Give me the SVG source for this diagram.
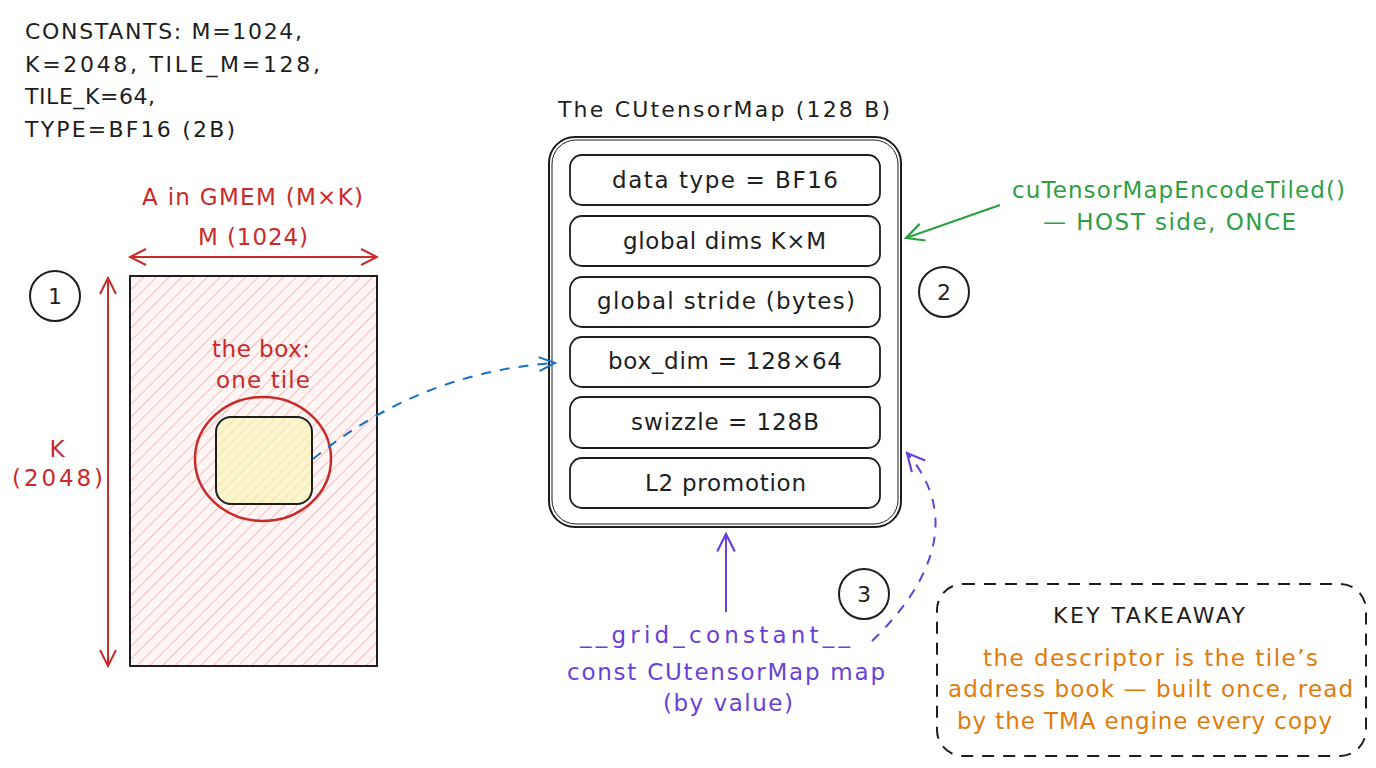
<svg xmlns="http://www.w3.org/2000/svg" width="1376" height="768" viewBox="0 0 1376 768">
<defs>
<style>
text{font-family:"DejaVu Sans","Liberation Sans",sans-serif;}
.blk{fill:#1e1e1e;font-size:22px;}
.red{fill:#c92a2a;font-size:23px;}
.grn{fill:#2f9e44;font-size:23px;}
.pur{fill:#6741d9;font-size:23px;}
.org{fill:#e07b0c;font-size:23px;}
.box{fill:#ffffff;stroke:#1e1e1e;stroke-width:1.8;}
.bt{fill:#1e1e1e;font-size:23px;}
.c{text-anchor:middle;}
.circ{fill:none;stroke:#1e1e1e;stroke-width:2;}
</style>
<pattern id="hatchRed" width="9" height="9" patternUnits="userSpaceOnUse" patternTransform="rotate(45)">
<rect width="9" height="9" fill="#fff5f5"/>
<line x1="0" y1="0" x2="0" y2="9" stroke="#f0a0a0" stroke-width="1.3"/>
</pattern>
<pattern id="hatchYel" width="7" height="7" patternUnits="userSpaceOnUse" patternTransform="rotate(45)">
<rect width="7" height="7" fill="#fbf6cf"/>
<line x1="0" y1="0" x2="0" y2="7" stroke="#e8dc84" stroke-width="1.2"/>
</pattern>
<marker id="arrRed" viewBox="0 0 20 20" refX="18" refY="10" markerWidth="20" markerHeight="20" markerUnits="userSpaceOnUse" orient="auto-start-reverse">
<path d="M2,2 L18,10 L2,18" fill="none" stroke="#c92a2a" stroke-width="2"/>
</marker>
<marker id="arrBlue" viewBox="0 0 20 20" refX="18" refY="10" markerWidth="20" markerHeight="20" markerUnits="userSpaceOnUse" orient="auto">
<path d="M2,3 L18,10 L2,17" fill="none" stroke="#1971c2" stroke-width="2"/>
</marker>
<marker id="arrGrn" viewBox="0 0 20 20" refX="18" refY="10" markerWidth="22" markerHeight="22" markerUnits="userSpaceOnUse" orient="auto">
<path d="M2,2 L18,10 L2,18" fill="none" stroke="#2f9e44" stroke-width="2"/>
</marker>
<marker id="arrPur" viewBox="0 0 20 20" refX="18" refY="10" markerWidth="22" markerHeight="22" markerUnits="userSpaceOnUse" orient="auto">
<path d="M2,2 L18,10 L2,18" fill="none" stroke="#6741d9" stroke-width="2"/>
</marker>
</defs>
<rect width="1376" height="768" fill="#ffffff"/>

<g id="constants">
<text class="blk" x="25" y="39" textLength="277" lengthAdjust="spacing">CONSTANTS: M=1024,</text>
<text class="blk" x="25" y="72" textLength="295" lengthAdjust="spacing">K=2048, TILE_M=128,</text>
<text class="blk" x="25" y="104" textLength="130" lengthAdjust="spacing">TILE_K=64,</text>
<text class="blk" x="25" y="137" textLength="210" lengthAdjust="spacing">TYPE=BF16 (2B)</text>
</g>

<g id="gmem">
<text class="red" x="142" y="205" textLength="221" lengthAdjust="spacing">A in GMEM (M×K)</text>
<text class="red" x="198" y="245" textLength="110" lengthAdjust="spacing">M (1024)</text>
<rect x="130" y="276" width="247" height="390" fill="url(#hatchRed)" stroke="#1e1e1e" stroke-width="2"/>
<text class="red c" x="57" y="457">K</text>
<text class="red" x="12" y="486" textLength="91" lengthAdjust="spacing">(2048)</text>
</g>

<g id="tile">
<text class="red" x="212" y="357" textLength="98" lengthAdjust="spacing">the box:</text>
<text class="red" x="216" y="388" textLength="94" lengthAdjust="spacing">one tile</text>
<ellipse cx="263" cy="459" rx="68" ry="62" fill="none" stroke="#c92a2a" stroke-width="2.5"/>
<rect x="216" y="417" width="96" height="87" rx="15" fill="url(#hatchYel)" stroke="#1e1e1e" stroke-width="2"/>
</g>

<g id="step1"><circle class="circ" cx="55" cy="296" r="25"/><text class="blk c" x="55" y="304">1</text></g>
<g id="step2"><circle class="circ" cx="944" cy="292" r="25"/><text class="blk c" x="944" y="300">2</text></g>
<g id="step3"><circle class="circ" cx="864" cy="594" r="25"/><text class="blk c" x="864" y="602">3</text></g>

<g id="descriptor">
<text class="blk" x="558" y="117" textLength="332" lengthAdjust="spacing">The CUtensorMap (128 B)</text>
<rect x="549" y="137" width="352" height="390" rx="26" fill="#ffffff" stroke="#1e1e1e" stroke-width="2"/>
<rect x="552" y="140" width="346" height="384" rx="24" fill="none" stroke="#1e1e1e" stroke-width="1"/>
<rect class="box" x="570" y="155" width="310" height="50" rx="12"/>
<text class="bt" x="612" y="188" textLength="226" lengthAdjust="spacing">data type = BF16</text>
<rect class="box" x="570" y="216" width="310" height="50" rx="12"/>
<text class="bt" x="623" y="249" textLength="203" lengthAdjust="spacing">global dims K×M</text>
<rect class="box" x="570" y="277" width="310" height="50" rx="12"/>
<text class="bt" x="597" y="309" textLength="258" lengthAdjust="spacing">global stride (bytes)</text>
<rect class="box" x="570" y="337" width="310" height="50" rx="12"/>
<text class="bt" x="608" y="369" textLength="234" lengthAdjust="spacing">box_dim = 128×64</text>
<rect class="box" x="570" y="397" width="310" height="51" rx="12"/>
<text class="bt" x="631" y="430" textLength="188" lengthAdjust="spacing">swizzle = 128B</text>
<rect class="box" x="570" y="458" width="310" height="50" rx="12"/>
<text class="bt" x="645" y="491" textLength="161" lengthAdjust="spacing">L2 promotion</text>
</g>

<g id="encode-label">
<text class="grn" x="1012" y="198" textLength="333" lengthAdjust="spacing">cuTensorMapEncodeTiled()</text>
<text class="grn" x="1043" y="230" textLength="253" lengthAdjust="spacing">— HOST side, ONCE</text>
</g>

<g id="grid-label">
<text class="pur" x="580" y="643" textLength="270" lengthAdjust="spacing">__grid_constant__</text>
<text class="pur" x="567" y="680" textLength="318" lengthAdjust="spacing">const CUtensorMap map</text>
<text class="pur" x="663" y="711" textLength="130" lengthAdjust="spacing">(by value)</text>
</g>

<g id="takeaway">
<rect x="937" y="584" width="429" height="172" rx="26" fill="none" stroke="#1e1e1e" stroke-width="2" stroke-dasharray="12 9"/>
<text class="blk" x="1053" y="623" textLength="192" lengthAdjust="spacing">KEY TAKEAWAY</text>
<text class="org" x="983" y="666" textLength="335" lengthAdjust="spacing">the descriptor is the tile’s</text>
<text class="org" x="948" y="697" textLength="405" lengthAdjust="spacing">address book — built once, read</text>
<text class="org" x="957" y="729" textLength="375" lengthAdjust="spacing">by the TMA engine every copy</text>
</g>

<g id="connectors" fill="none">
<line x1="130" y1="257" x2="377" y2="257" stroke="#c92a2a" stroke-width="2" marker-start="url(#arrRed)" marker-end="url(#arrRed)"/>
<line x1="108" y1="278" x2="108" y2="666" stroke="#c92a2a" stroke-width="2" marker-start="url(#arrRed)" marker-end="url(#arrRed)"/>
<path d="M313,459 Q420,372 555,363" stroke="#1971c2" stroke-width="2" stroke-dasharray="10 9" marker-end="url(#arrBlue)"/>
<line x1="1000" y1="205" x2="906" y2="238" stroke="#2f9e44" stroke-width="2.2" marker-end="url(#arrGrn)"/>
<line x1="726" y1="612" x2="726" y2="534" stroke="#6741d9" stroke-width="2" marker-end="url(#arrPur)"/>
<path d="M872,641 C925,590 965,520 907,453" stroke="#6741d9" stroke-width="2" stroke-dasharray="10 9" marker-end="url(#arrPur)"/>
</g>
</svg>
